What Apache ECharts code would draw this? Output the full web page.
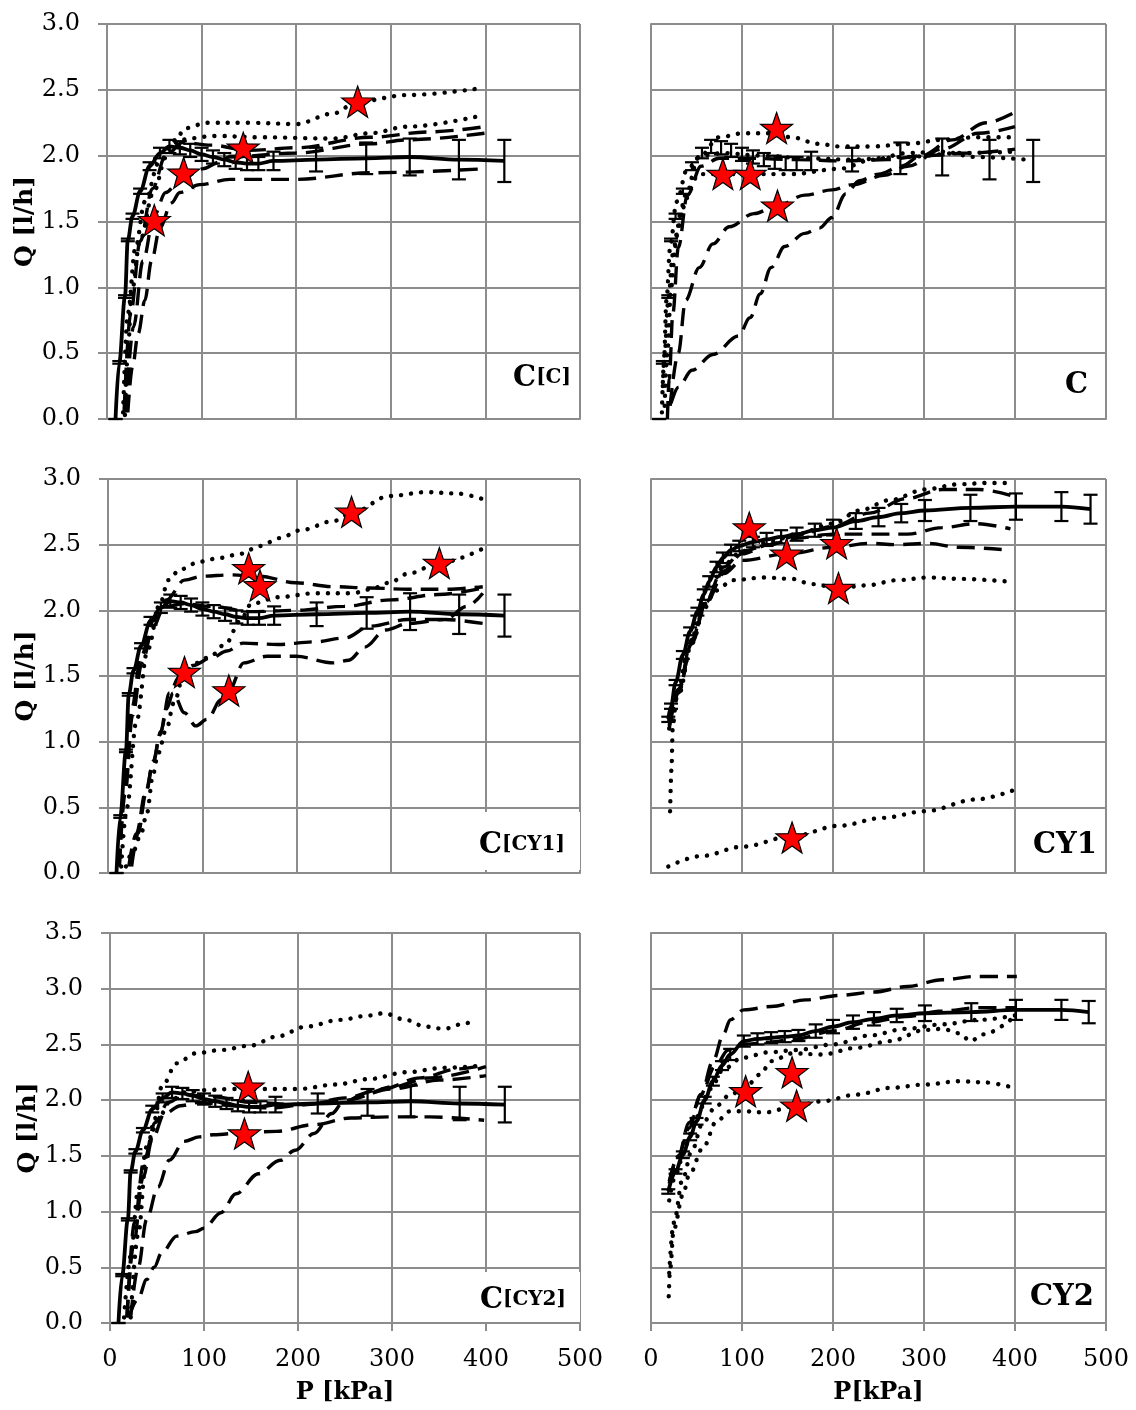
<!DOCTYPE html>
<html><head><meta charset="utf-8">
<script src="https://cdn.jsdelivr.net/npm/echarts@6/dist/echarts.min.js"></script>
<style>html,body{margin:0;padding:0;background:#fff}#c{width:1136px;height:1410px}</style>
</head><body><div id="c"></div>
<script>
// ---------------- DATA ----------------
const X_TICKS = [0, 100, 200, 300, 400, 500];
const Q_TICKS_3 = [0, 0.5, 1.0, 1.5, 2.0, 2.5, 3.0];
const Q_TICKS_35 = [0, 0.5, 1.0, 1.5, 2.0, 2.5, 3.0, 3.5];
const X_TITLES = ['P [kPa]', 'P[kPa]'];
const Y_TITLE = 'Q [l/h]';
const PANEL_MAIN = ['C', 'C', 'C', 'CY1', 'C', 'CY2'];
const PANEL_SUB = ['[C]', '', '[CY1]', '', '[CY2]', ''];

// reference C (mean with error bars)
const REF_C_P = [9, 13, 19, 22, 27, 35, 45, 56, 66, 77, 88, 100, 112, 124, 136, 148, 160, 176, 221, 274, 320, 372, 420];
const REF_C_Q = [0.0, 0.43, 0.93, 1.36, 1.54, 1.73, 1.92, 2.02, 2.07, 2.06, 2.04, 2.01, 1.99, 1.97, 1.95, 1.94, 1.94, 1.96, 1.97, 1.98, 1.99, 1.97, 1.96];
const REF_C_ERR = [0, 0.01, 0.01, 0.01, 0.02, 0.02, 0.03, 0.04, 0.05, 0.05, 0.05, 0.05, 0.05, 0.05, 0.05, 0.05, 0.05, 0.07, 0.09, 0.12, 0.14, 0.15, 0.16];
// reference CY1
const REF_CY1_P = [19, 22, 27, 35, 43, 51, 58, 64, 72, 79, 88, 97, 112, 127, 143, 160, 180, 200, 225, 250, 275, 301, 351, 401, 451, 483];
const REF_CY1_Q = [1.17, 1.27, 1.45, 1.66, 1.84, 1.99, 2.12, 2.22, 2.33, 2.40, 2.46, 2.49, 2.52, 2.54, 2.56, 2.58, 2.61, 2.63, 2.68, 2.71, 2.74, 2.76, 2.78, 2.79, 2.79, 2.77];
const REF_CY1_ERR = [0.02, 0.02, 0.02, 0.03, 0.03, 0.03, 0.04, 0.04, 0.04, 0.04, 0.04, 0.04, 0.04, 0.05, 0.05, 0.05, 0.05, 0.06, 0.06, 0.07, 0.07, 0.08, 0.10, 0.10, 0.11, 0.11];
// reference CY2
const REF_CY2_P = [19, 27, 35, 43, 50, 59, 68, 78, 87, 102, 117, 132, 147, 162, 181, 200, 222, 245, 270, 301, 352, 401, 451, 481];
const REF_CY2_Q = [1.18, 1.36, 1.51, 1.67, 1.81, 2.0, 2.17, 2.31, 2.41, 2.53, 2.55, 2.56, 2.57, 2.58, 2.62, 2.66, 2.70, 2.73, 2.76, 2.78, 2.79, 2.81, 2.81, 2.79];
const REF_CY2_ERR = [0.02, 0.02, 0.03, 0.03, 0.03, 0.03, 0.04, 0.04, 0.05, 0.05, 0.05, 0.05, 0.05, 0.05, 0.06, 0.06, 0.06, 0.06, 0.06, 0.07, 0.08, 0.09, 0.09, 0.10];

// panel C[C]
const TL_DOT1 = [[19,0.03],[22,0.5],[26,0.96],[35,1.36],[49,1.72],[63,2.0],[84,2.21],[105,2.25],[150,2.25],[200,2.24],[239,2.32],[265,2.41],[317,2.46],[393,2.51]];
const TL_DOT2 = [[17,0.05],[22,0.8],[30,1.3],[40,1.65],[55,1.95],[73,2.12],[115,2.15],[160,2.14],[239,2.13],[278,2.17],[317,2.22],[393,2.30]];
const TL_DASH1 = [[22,0.05],[27,0.4],[33,0.65],[40,0.9],[47,1.2],[56,1.45],[68,1.64],[77,1.72],[98,1.78],[130,1.82],[200,1.82],[278,1.87],[399,1.90]];
const TL_DASH2 = [[20,0.05],[28,0.7],[38,1.2],[50,1.55],[62,1.72],[77,1.81],[101,1.90],[119,1.95],[129,1.99],[200,2.02],[278,2.09],[317,2.12],[399,2.17]];
const TL_DASH3 = [[18,0.05],[25,0.8],[35,1.35],[48,1.75],[62,2.0],[80,2.1],[110,2.08],[150,2.04],[200,2.06],[278,2.14],[340,2.18],[399,2.22]];
const TL_STARS = [[50,1.51],[81,1.87],[144,2.06],[265,2.41]];

// panel C
const TR_DOT1 = [[13,0.25],[15,0.5],[19,0.9],[24,1.25],[34,1.6],[53,1.99],[75,2.14],[101,2.17],[132,2.17],[154,2.14],[184,2.09],[207,2.07],[244,2.07],[282,2.09],[320,2.12],[357,2.14],[400,2.14]];
const TR_DOT2 = [[15,0.1],[18,0.5],[22,1.0],[28,1.4],[38,1.7],[53,1.86],[94,1.86],[154,1.86],[207,1.90],[244,1.97],[282,2.02],[320,2.03],[357,1.99],[413,1.97]];
const TR_DOT3 = [[12,0.05],[14,0.4],[17,0.9],[21,1.3],[28,1.65],[40,1.9],[55,2.0],[80,2.02],[120,2.0],[170,1.98],[220,1.97],[280,1.99],[340,2.02],[400,2.03]];
const TR_DASH1 = [[22,0.12],[30,0.24],[45,0.37],[68,0.49],[96,0.63],[109,0.77],[120,0.95],[132,1.15],[147,1.31],[169,1.41],[185,1.45],[199,1.53],[214,1.71],[229,1.81],[250,1.86],[275,1.92],[297,2.0],[331,2.12],[368,2.25],[400,2.33]];
const TR_DASH2 = [[21,0.1],[30,0.5],[38,0.9],[53,1.15],[68,1.33],[86,1.46],[113,1.56],[139,1.62],[169,1.70],[199,1.74],[222,1.78],[256,1.85],[282,1.92],[320,2.05],[360,2.17],[400,2.22]];
const TR_DASH3 = [[18,0.0],[20,0.3],[24,0.8],[30,1.3],[40,1.7],[55,1.92],[75,1.98],[110,1.98],[160,1.97],[210,1.96],[260,1.97],[300,2.0],[350,2.02],[400,2.05]];
const TR_STARS = [[79,1.86],[109,1.86],[138,2.21],[139,1.62]];

// panel C[CY1]
const ML_DOT1 = [[14,0.05],[20,0.5],[30,1.15],[42,1.7],[55,2.05],[64,2.23],[76,2.31],[97,2.37],[119,2.40],[140,2.43],[161,2.49],[182,2.55],[204,2.61],[239,2.68],[258,2.74],[298,2.87],[337,2.90],[369,2.89],[400,2.84]];
const ML_DOT2 = [[19,0.05],[27,0.17],[35,0.30],[41,0.45],[48,0.76],[53,0.91],[62,1.1],[70,1.3],[81,1.53],[95,1.60],[110,1.66],[125,1.75],[140,1.92],[152,2.05],[180,2.10],[219,2.13],[259,2.13],[278,2.16],[298,2.21],[318,2.28],[351,2.36],[397,2.47]];
const ML_DASH1 = [[12,0.05],[18,0.6],[26,1.2],[36,1.6],[48,1.88],[62,2.08],[81,2.23],[100,2.26],[130,2.27],[160,2.26],[199,2.21],[239,2.18],[278,2.17],[318,2.16],[357,2.16],[397,2.18]];
const ML_DASH2 = [[25,0.05],[32,0.3],[40,0.6],[48,0.85],[55,1.05],[62,1.25],[69,1.37],[81,1.22],[93,1.12],[105,1.17],[120,1.32],[128,1.39],[144,1.60],[168,1.65],[199,1.65],[239,1.60],[255,1.62],[272,1.72],[294,1.85],[318,1.90],[357,1.93],[397,1.90]];
const ML_DASH3 = [[22,0.05],[30,0.3],[40,0.62],[48,0.85],[56,1.08],[65,1.37],[76,1.5],[90,1.58],[110,1.64],[126,1.69],[143,1.75],[180,1.74],[219,1.76],[251,1.79],[278,1.88],[318,1.93],[357,1.93],[380,2.03],[397,2.13]];
const ML_DASH4 = [[12,0.05],[18,0.7],[25,1.25],[35,1.65],[48,1.92],[62,2.03],[80,2.05],[110,2.03],[150,1.99],[200,2.0],[250,2.03],[300,2.08],[350,2.12],[397,2.17]];
const ML_STARS = [[81,1.53],[128,1.39],[149,2.32],[161,2.19],[258,2.75],[351,2.36]];

// panel CY1
const MR_DOT1 = [[21,0.47],[22.5,0.79],[24,1.13],[28,1.33],[41,1.71],[56,1.99],[71,2.15],[90,2.23],[124,2.25],[154,2.24],[177,2.20],[206,2.17],[237,2.19],[271,2.23],[305,2.25],[338,2.24],[391,2.22]];
const MR_DOT2 = [[19,0.05],[56,0.13],[100,0.2],[155,0.28],[207,0.36],[255,0.42],[301,0.47],[357,0.56],[398,0.63]];
const MR_DOT3 = [[20,1.1],[30,1.35],[45,1.75],[60,2.05],[80,2.35],[100,2.45],[130,2.52],[160,2.58],[200,2.66],[229,2.76],[263,2.84],[301,2.92],[338,2.96],[370,2.97],[398,2.97]];
const MR_DASH1 = [[20,1.15],[30,1.4],[45,1.78],[60,2.07],[80,2.33],[100,2.45],[130,2.50],[160,2.55],[200,2.58],[240,2.58],[282,2.58],[320,2.63],[357,2.66],[395,2.62]];
const MR_DASH2 = [[20,1.12],[30,1.38],[45,1.75],[60,2.05],[80,2.28],[100,2.38],[150,2.43],[200,2.48],[240,2.51],[270,2.50],[305,2.51],[338,2.48],[391,2.46]];
const MR_DASH3 = [[20,1.1],[30,1.37],[45,1.76],[60,2.06],[80,2.3],[100,2.43],[130,2.5],[160,2.57],[200,2.64],[240,2.74],[280,2.85],[320,2.92],[360,2.92],[398,2.87]];
const MR_STARS = [[108,2.63],[149,2.43],[204,2.51],[206,2.17],[155,0.27]];

// panel C[CY2]
const BL_DOT1 = [[22,0.05],[30,0.8],[39,1.52],[47,1.82],[55,2.12],[71,2.33],[91,2.42],[118,2.45],[150,2.49],[177,2.57],[209,2.66],[244,2.72],[276,2.76],[291,2.78],[315,2.72],[335,2.66],[355,2.64],[378,2.69],[390,2.72]];
const BL_DOT2 = [[15,0.05],[22,0.6],[30,1.2],[40,1.6],[52,1.85],[65,2.0],[80,2.07],[100,2.09],[130,2.10],[160,2.10],[200,2.10],[240,2.14],[276,2.19],[315,2.25],[355,2.29],[395,2.31]];
const BL_DASH1 = [[20,0.05],[30,0.22],[39,0.39],[47,0.5],[55,0.63],[71,0.78],[91,0.82],[100,0.85],[118,0.99],[134,1.16],[158,1.34],[181,1.46],[197,1.55],[217,1.70],[236,1.88],[248,1.98],[270,2.05],[300,2.12],[340,2.2],[400,2.3]];
const BL_DASH2 = [[22,0.05],[30,0.5],[39,0.93],[51,1.22],[63,1.46],[79,1.63],[95,1.67],[110,1.69],[144,1.71],[177,1.72],[217,1.78],[256,1.84],[296,1.85],[340,1.85],[398,1.82]];
const BL_DASH3 = [[18,0.05],[25,0.7],[35,1.3],[45,1.65],[58,1.88],[75,1.95],[95,1.98],[130,1.95],[170,1.93],[210,1.96],[250,2.02],[290,2.1],[330,2.2],[370,2.28],[400,2.32]];
const BL_DASH4 = [[18,0.05],[26,0.9],[36,1.45],[48,1.8],[62,1.98],[80,2.05],[110,2.03],[150,1.98],[200,1.96],[250,2.0],[300,2.1],[350,2.18],[400,2.22]];
const BL_STARS = [[147,2.12],[143,1.70]];

// panel CY2
const BR_DASH1 = [[20,1.27],[30,1.5],[42,1.75],[55,2.05],[68,2.35],[80,2.6],[87,2.72],[102,2.81],[132,2.84],[170,2.90],[207,2.94],[245,2.97],[282,3.02],[320,3.08],[357,3.11],[402,3.11]];
const BR_DASH2 = [[20,1.25],[30,1.5],[42,1.8],[55,2.05],[70,2.3],[85,2.45],[100,2.5],[130,2.52],[160,2.55],[200,2.62],[240,2.7],[280,2.75],[320,2.8],[360,2.83],[400,2.83]];
const BR_DOT1 = [[19.5,0.24],[21,0.48],[25,0.84],[35,1.15],[42,1.33],[57,1.57],[72,1.81],[87,1.90],[102,1.90],[125,1.89],[160,1.95],[188,1.99],[226,2.05],[263,2.11],[301,2.14],[339,2.17],[365,2.16],[399,2.11]];
const BR_DOT2 = [[20,0.45],[25,0.9],[35,1.3],[45,1.55],[57,1.8],[72,1.95],[87,2.05],[102,2.1],[120,2.23],[132,2.35],[155,2.42],[188,2.41],[226,2.47],[263,2.53],[301,2.63],[320,2.64],[339,2.6],[351,2.53],[365,2.59],[395,2.72]];
const BR_DOT3 = [[20,1.1],[28,1.35],[38,1.6],[50,1.85],[65,2.1],[80,2.28],[100,2.38],[130,2.43],[160,2.45],[200,2.5],[240,2.58],[280,2.64],[320,2.68],[360,2.72],[400,2.76]];
const BR_STARS = [[104,2.08],[155,2.25],[160,1.95]];

// ---------------- LAYOUT / STYLE ----------------
const FONT = "'DejaVu Serif', serif";
const GRID_COLOR = '#8c8c8c';
const GRIDS = [
  {left:107, top:24, width:473, height:395},
  {left:651, top:24, width:455, height:395},
  {left:108, top:479, width:472, height:394},
  {left:651, top:479, width:455, height:394},
  {left:110, top:933, width:470, height:390},
  {left:651, top:933, width:455, height:390}
];
const STAR = 'path://M50,2 L61.8,35.8 L97.6,36.5 L69.1,58.2 L79.4,92.5 L50,72 L20.6,92.5 L30.9,58.2 L2.4,36.5 L38.2,35.8 Z';

const zip = (a, b) => a.map((v, i) => [v, b[i]]);
const zip3 = (a, b, c) => a.map((v, i) => [v, b[i], c[i]]);

function xAxis(i) {
  const bottom = i >= 4;
  return {
    gridIndex: i, type: 'value', min: X_TICKS[0], max: X_TICKS[X_TICKS.length - 1], interval: X_TICKS[1] - X_TICKS[0],
    axisLine: {show: true, onZero: false, lineStyle: {color: GRID_COLOR, width: 2}},
    axisTick: {show: bottom, length: 8, lineStyle: {color: GRID_COLOR, width: 2}},
    axisLabel: {show: bottom, fontFamily: FONT, fontSize: 24, color: '#000', margin: 25},
    splitLine: {show: true, lineStyle: {color: GRID_COLOR, width: 2}},
    name: bottom ? X_TITLES[i - 4] : '', nameLocation: 'middle', nameGap: 58,
    nameTextStyle: {fontFamily: FONT, fontSize: 24, fontWeight: 'bold', color: '#000'}
  };
}
function yAxis(i) {
  const left = i % 2 === 0;
  const ticks = i >= 4 ? Q_TICKS_35 : Q_TICKS_3;
  return {
    gridIndex: i, type: 'value', min: ticks[0], max: ticks[ticks.length - 1], interval: ticks[1] - ticks[0],
    axisLine: {show: true, lineStyle: {color: GRID_COLOR, width: 2}},
    axisTick: {show: left, length: 9, lineStyle: {color: GRID_COLOR, width: 2}},
    axisLabel: {show: left, fontFamily: FONT, fontSize: 24, color: '#000', margin: 27, formatter: v => v.toFixed(1)},
    splitLine: {show: true, lineStyle: {color: GRID_COLOR, width: 2}},
    name: left ? Y_TITLE : '', nameLocation: 'middle', nameGap: 54,
    nameTextStyle: {fontFamily: FONT, fontSize: 25, fontWeight: 'bold', color: '#000'}
  };
}

const series = [];
function curve(i, data, kind) {
  const dotted = kind === 'dot';
  series.push({
    type: 'line', xAxisIndex: i, yAxisIndex: i, data: data, showSymbol: false, symbol: 'none',
    smooth: 0.35, smoothMonotone: 'x', z: 2, silent: true, clip: true,
    lineStyle: dotted ? {color: '#000', width: 4.4, type: [0.1, 10], cap: 'round'}
                      : {color: '#000', width: 3.4, type: [18, 9], cap: 'butt'}
  });
}
function refLine(i, p, q) {
  series.push({
    type: 'line', xAxisIndex: i, yAxisIndex: i, data: zip(p, q), showSymbol: false, symbol: 'none',
    smooth: 0.35, smoothMonotone: 'x', z: 3, silent: true,
    lineStyle: {color: '#000', width: 3.8, type: 'solid'}
  });
}
function errBars(i, p, q, e) {
  series.push({
    type: 'custom', xAxisIndex: i, yAxisIndex: i, data: zip3(p, q, e), z: 4, silent: true,
    encode: {x: 0, y: 1},
    renderItem: function (params, api) {
      const x = api.value(0), y = api.value(1), er = api.value(2);
      const hi = api.coord([x, y + er]), lo = api.coord([x, y - er]);
      const hw = 7, st = {stroke: '#000', lineWidth: 2.2};
      return {type: 'group', children: [
        {type: 'line', shape: {x1: hi[0], y1: hi[1], x2: lo[0], y2: lo[1]}, style: st},
        {type: 'line', shape: {x1: hi[0] - hw, y1: hi[1], x2: hi[0] + hw, y2: hi[1]}, style: st},
        {type: 'line', shape: {x1: lo[0] - hw, y1: lo[1], x2: lo[0] + hw, y2: lo[1]}, style: st}
      ]};
    }
  });
}
function stars(i, data) {
  series.push({
    type: 'scatter', xAxisIndex: i, yAxisIndex: i, data: data, symbol: STAR, symbolSize: [32, 31], z: 6, silent: true,
    itemStyle: {color: '#ff0000', borderColor: '#000', borderWidth: 1.2, opacity: 1}
  });
}

// panel 0 : C[C]
[TL_DOT1, TL_DOT2].forEach(d => curve(0, d, 'dot'));
[TL_DASH1, TL_DASH2, TL_DASH3].forEach(d => curve(0, d, 'dash'));
refLine(0, REF_C_P, REF_C_Q); errBars(0, REF_C_P, REF_C_Q, REF_C_ERR); stars(0, TL_STARS);
// panel 1 : C
[TR_DOT1, TR_DOT2, TR_DOT3].forEach(d => curve(1, d, 'dot'));
[TR_DASH1, TR_DASH2, TR_DASH3].forEach(d => curve(1, d, 'dash'));
errBars(1, REF_C_P, REF_C_Q, REF_C_ERR); stars(1, TR_STARS);
// panel 2 : C[CY1]
[ML_DOT1, ML_DOT2].forEach(d => curve(2, d, 'dot'));
[ML_DASH1, ML_DASH2, ML_DASH3, ML_DASH4].forEach(d => curve(2, d, 'dash'));
refLine(2, REF_C_P, REF_C_Q); errBars(2, REF_C_P, REF_C_Q, REF_C_ERR); stars(2, ML_STARS);
// panel 3 : CY1
[MR_DOT1, MR_DOT2, MR_DOT3].forEach(d => curve(3, d, 'dot'));
[MR_DASH1, MR_DASH2, MR_DASH3].forEach(d => curve(3, d, 'dash'));
refLine(3, REF_CY1_P, REF_CY1_Q); errBars(3, REF_CY1_P, REF_CY1_Q, REF_CY1_ERR); stars(3, MR_STARS);
// panel 4 : C[CY2]
[BL_DOT1, BL_DOT2].forEach(d => curve(4, d, 'dot'));
[BL_DASH1, BL_DASH2, BL_DASH3, BL_DASH4].forEach(d => curve(4, d, 'dash'));
refLine(4, REF_C_P, REF_C_Q); errBars(4, REF_C_P, REF_C_Q, REF_C_ERR); stars(4, BL_STARS);
// panel 5 : CY2
[BR_DOT1, BR_DOT2, BR_DOT3].forEach(d => curve(5, d, 'dot'));
[BR_DASH1, BR_DASH2].forEach(d => curve(5, d, 'dash'));
refLine(5, REF_CY2_P, REF_CY2_Q); errBars(5, REF_CY2_P, REF_CY2_Q, REF_CY2_ERR); stars(5, BR_STARS);

// panel labels
const LABEL_POS = [[571, 378], [1088, 385], [565, 845], [1097, 845], [566, 1300], [1094, 1297]];
const LABEL_BOX = [null, null, [466, 812, 114, 58], null, [462, 1272, 118, 50], null];
const graphic = [];
LABEL_POS.forEach((p, i) => {
  if (LABEL_BOX[i]) {
    const b = LABEL_BOX[i];
    graphic.push({type: 'rect', z: 50, shape: {x: b[0], y: b[1], width: b[2], height: b[3]}, style: {fill: '#fff'}});
  }
  graphic.push({
    type: 'text', z: 51, x: p[0], y: p[1],
    style: {
      text: '{a|' + PANEL_MAIN[i] + '}' + (PANEL_SUB[i] ? '{b|' + PANEL_SUB[i] + '}' : ''),
      align: 'right', verticalAlign: 'middle', fill: '#000',
      rich: {
        a: {fontFamily: FONT, fontSize: 29, fontWeight: 'bold', fill: '#000', lineHeight: 30},
        b: {fontFamily: FONT, fontSize: 20, fontWeight: 'bold', fill: '#000', lineHeight: 30}
      }
    }
  });
});

const chart = echarts.init(document.getElementById('c'), null, {renderer: 'canvas'});
chart.setOption({
  animation: false,
  backgroundColor: '#fff',
  grid: GRIDS.map(g => Object.assign({containLabel: false}, g)),
  xAxis: GRIDS.map((g, i) => xAxis(i)),
  yAxis: GRIDS.map((g, i) => yAxis(i)),
  series: series,
  graphic: graphic
});
</script></body></html>
